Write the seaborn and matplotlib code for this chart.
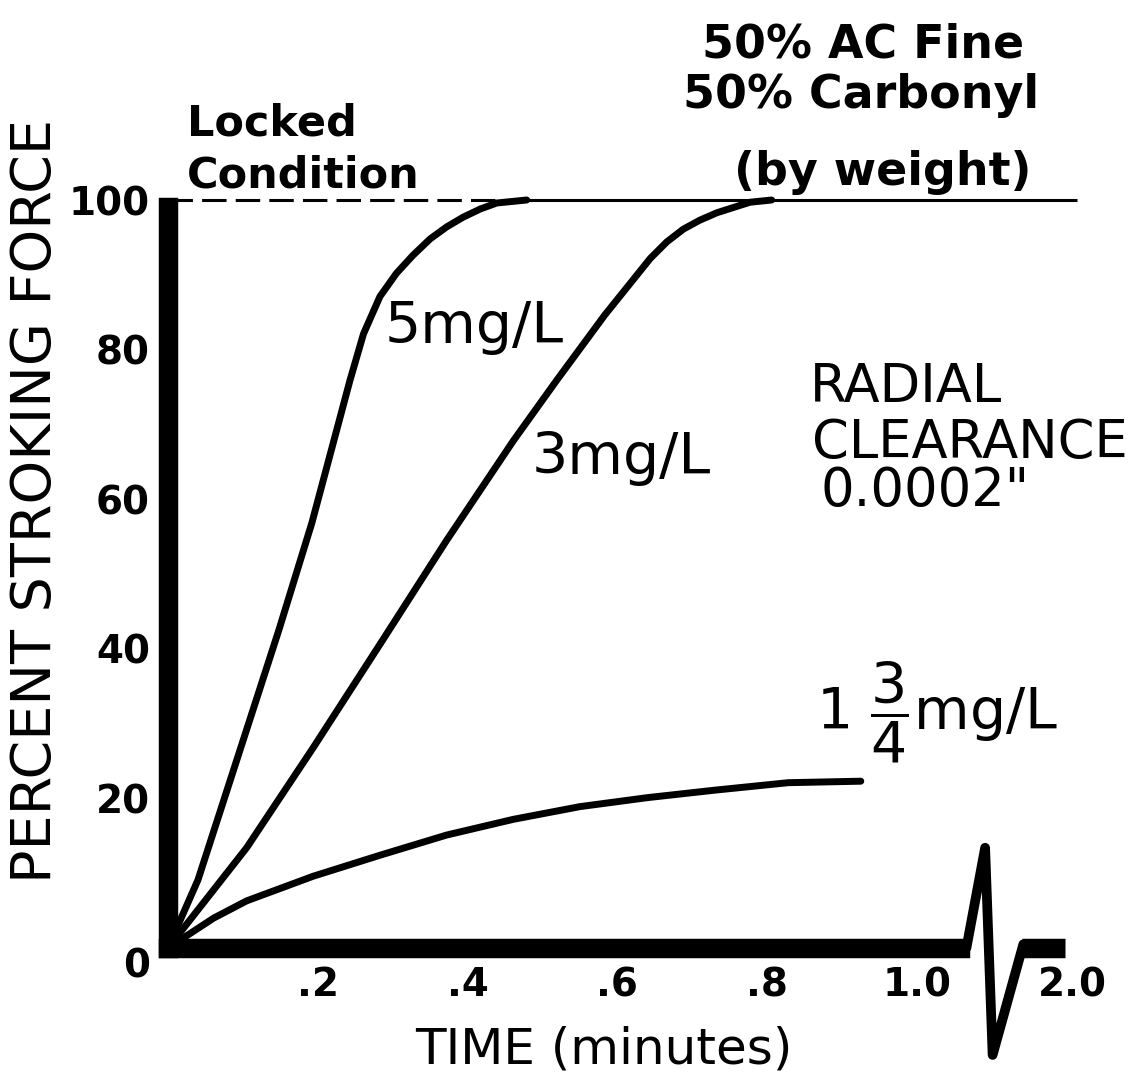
import matplotlib
matplotlib.use('Agg')
import matplotlib.pyplot as plt
import seaborn as sns
import pandas as pd

# values: time in minutes, percent stroking force
time_5mg = [0.0, 0.040, 0.094, 0.148, 0.192, 0.243, 0.261, 0.283, 0.305, 0.327,
            0.350, 0.372, 0.394, 0.417, 0.439, 0.479]
force_5mg = [0.0, 9.1, 25.8, 42.5, 56.8, 75.9, 82.1, 87.1, 90.2, 92.6,
             94.8, 96.4, 97.7, 98.8, 99.6, 100.0]

time_3mg = [0.0, 0.105, 0.194, 0.283, 0.372, 0.461, 0.519, 0.583, 0.644,
            0.666, 0.688, 0.710, 0.733, 0.755, 0.777, 0.806]
force_3mg = [0.0, 13.4, 26.8, 40.6, 54.5, 67.8, 75.9, 84.6, 92.2,
             94.4, 96.1, 97.3, 98.3, 99.0, 99.7, 100.0]

time_1_75mg = [0.0, 0.061, 0.105, 0.194, 0.283, 0.372, 0.461, 0.550, 0.640,
               0.730, 0.828, 0.925]
force_1_75mg = [0.0, 4.0, 6.3, 9.6, 12.4, 15.1, 17.2, 18.9, 20.1, 21.1, 22.1, 22.3]

locked_level = 100
y_ticks = [0, 20, 40, 60, 80, 100]
y_tick_labels = ['0', '20', '40', '60', '80', '100']
# broken axis: last tick stands for 2.0 minutes
x_ticks = [0.2, 0.4, 0.6, 0.8, 1.0, 1.208]
x_tick_labels = ['.2', '.4', '.6', '.8', '1.0', '2.0']

sns.set_theme(style='white')
plt.rcParams['font.family'] = ['DejaVu Sans']
plt.rcParams['mathtext.fontset'] = 'dejavusans'
plt.rcParams['text.color'] = 'black'
plt.rcParams['axes.labelcolor'] = 'black'

W, H = 1136, 1080
fig = plt.figure(figsize=(W / 100, H / 100), dpi=100)
ax = fig.add_axes([168 / W, 1 - 948 / H, 910 / W, 748 / H])


def px(x, y):
    # pixel position -> figure fraction
    return x / W, 1 - y / H


rows = []
for name, t, f in [('5mg/L', time_5mg, force_5mg),
                   ('3mg/L', time_3mg, force_3mg),
                   ('1 3/4mg/L', time_1_75mg, force_1_75mg)]:
    rows += [(name, a, b) for a, b in zip(t, f)]
df = pd.DataFrame(rows, columns=['series', 'time', 'force'])

sns.lineplot(data=df, x='time', y='force', units='series', estimator=None,
             sort=False, color='black', linewidth=5, ax=ax)
for ln in ax.lines:
    ln.set_clip_on(False)
    ln.set_solid_capstyle('round')
    ln.set_solid_joinstyle('round')

# locked condition line
ax.hlines(locked_level, 0, 0.479, colors='black', linestyles=(0, (8, 3)),
          linewidth=2.2, clip_on=False)
ax.hlines(locked_level, 0.479, 1.213, colors='black', linewidth=2.2, clip_on=False)

ax.set_xlim(0, 1.215)
ax.set_ylim(0, 100)

# heavy axis bars
sns.despine(ax=ax)
for side in ['left', 'bottom']:
    sp = ax.spines[side]
    sp.set_linewidth(14)
    sp.set_color('black')
    sp.set_capstyle('projecting')
ax.spines['left'].set_bounds(0, 99)
ax.spines['bottom'].set_bounds(0, 1.058)

# axis break glyph and the stub after it
ax.plot([1.066, 1.091, 1.101, 1.142], [0, 13.4, -14.3, 0.5], color='black',
        linewidth=7, solid_joinstyle='round', clip_on=False)
ax.plot([1.140, 1.198], [0, 0], color='black', linewidth=14,
        solid_capstyle='butt', clip_on=False)

ax.set_xticks(x_ticks)
ax.set_xticklabels(x_tick_labels)
ax.set_yticks(y_ticks)
ax.set_yticklabels(y_tick_labels)
ax.tick_params(length=0, pad=13, labelsize=28, colors='black')
plt.setp(ax.get_xticklabels() + ax.get_yticklabels(), fontweight='bold')
ax.get_yticklabels()[0].set_va('top')
ax.set_xlabel('')
ax.set_ylabel('')

# axis titles
fig.text(*px(36, 501), 'PERCENT STROKING FORCE', rotation=90, ha='center',
         va='center', fontsize=40)
fig.text(*px(604, 1064), 'TIME (minutes)', ha='center', va='baseline', fontsize=36)

# annotations
fig.text(*px(187, 136), 'Locked', ha='left', va='baseline', fontsize=31, fontweight='bold')
fig.text(*px(187, 188), 'Condition', ha='left', va='baseline', fontsize=31, fontweight='bold')

fig.text(*px(863, 58), '50% AC Fine', ha='center', va='baseline', fontsize=33, fontweight='bold')
fig.text(*px(861, 108), '50% Carbonyl', ha='center', va='baseline', fontsize=33, fontweight='bold')
fig.text(*px(883, 185), '(by weight)', ha='center', va='baseline', fontsize=33, fontweight='bold')

fig.text(*px(385, 343), '5mg/L', ha='left', va='baseline', fontsize=41)
fig.text(*px(532, 474), '3mg/L', ha='left', va='baseline', fontsize=41)
fig.text(*px(816, 729), r'1 $\dfrac{3}{4}$mg/L', ha='left', va='baseline', fontsize=41)

fig.text(*px(810, 402), 'RADIAL', ha='left', va='baseline', fontsize=38)
fig.text(*px(812, 458), 'CLEARANCE', ha='left', va='baseline', fontsize=38)
fig.text(*px(821, 506), '0.0002"', ha='left', va='baseline', fontsize=38)

fig.savefig('out.png', dpi=100)
